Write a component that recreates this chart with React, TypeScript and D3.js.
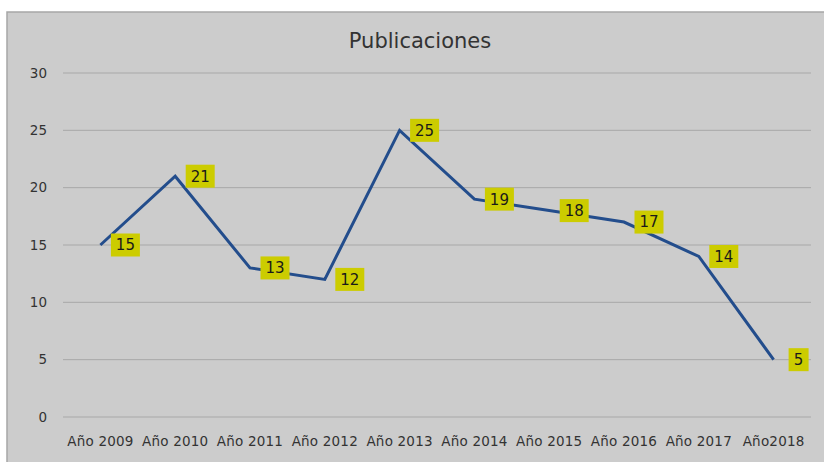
import React from 'react';
import * as d3 from 'd3';

const categories = [
  'Año 2009', 'Año 2010', 'Año 2011', 'Año 2012', 'Año 2013',
  'Año 2014', 'Año 2015', 'Año 2016', 'Año 2017', 'Año2018',
];
const publicaciones = [15, 21, 13, 12, 25, 19, 18, 17, 14, 5];
const yTicks = [0, 5, 10, 15, 20, 25, 30];

const W = 824;
const H = 462;

const App: React.FC = () => {
  const x = d3.scaleBand<string>().domain(categories).range([63, 811]);
  const y = d3.scaleLinear().domain([0, 30]).range([417, 73]);
  const cx = (c: string) => (x(c) ?? 0) + x.bandwidth() / 2;

  const line = d3
    .line<number>()
    .x((_, i) => cx(categories[i]))
    .y((d) => y(d));

  return (
    <svg
      width={W}
      height={H}
      style={{ position: 'absolute', left: 0, top: 0 }}
      fontFamily="'DejaVu Sans', sans-serif"
    >
      <rect x={0} y={0} width={W} height={H} fill="#ffffff" />
      <rect x={7} y={12} width={W} height={H} fill="#cccccc" stroke="#a6a6a6" strokeWidth={1.5} />

      <text x={420} y={48} textAnchor="middle" fontSize={21} fill="#333333">
        Publicaciones
      </text>

      {/* grid + y axis */}
      {yTicks.map((t) => (
        <g key={t}>
          <line x1={63} x2={811} y1={y(t)} y2={y(t)} stroke="#a8a8a8" strokeWidth={1} />
          <text x={47} y={y(t)} dy="0.35em" textAnchor="end" fontSize={13.5} fill="#333333">
            {t}
          </text>
        </g>
      ))}

      {/* x axis labels */}
      {categories.map((c) => (
        <text key={c} x={cx(c)} y={441} dy="0.35em" textAnchor="middle" fontSize={13.5} fill="#333333" letterSpacing={0.2}>
          {c}
        </text>
      ))}

      <path
        d={line(publicaciones) ?? ''}
        fill="none"
        stroke="#234d8c"
        strokeWidth={3}
        strokeLinejoin="miter"
      />

      {/* data labels */}
      {publicaciones.map((v, i) => {
        const px = cx(categories[i]) + 25;
        const py = y(v);
        const w = String(v).length > 1 ? 29 : 20;
        return (
          <g key={i}>
            <rect x={px - w / 2} y={py - 11.5} width={w} height={23} fill="#cccc00" />
            <text x={px} y={py} dy="0.36em" textAnchor="middle" fontSize={15} fill="#1a1a1a">
              {v}
            </text>
          </g>
        );
      })}
    </svg>
  );
};

export default App;
